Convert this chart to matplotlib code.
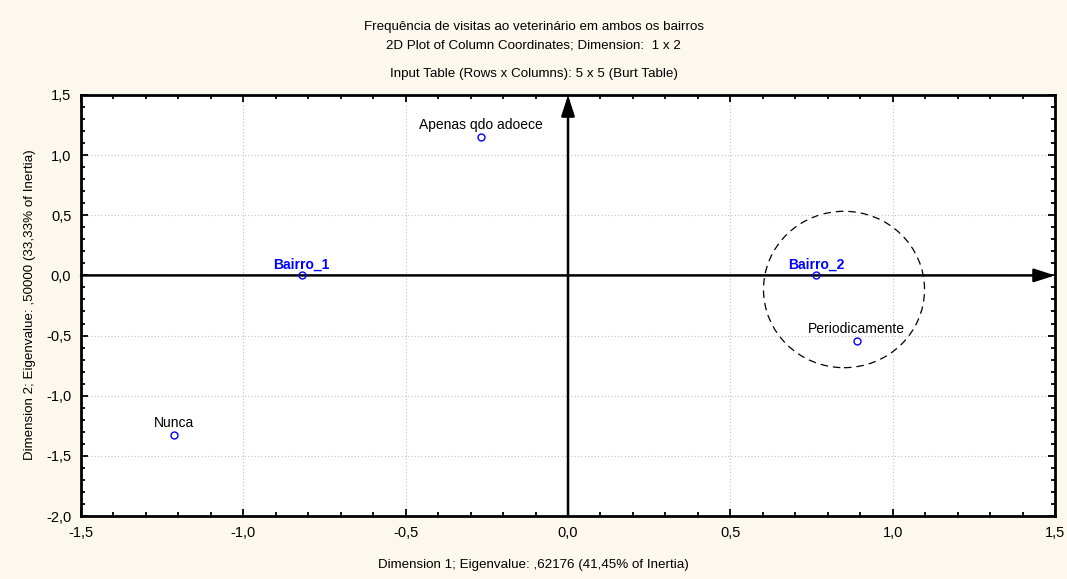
import numpy as np
import matplotlib
matplotlib.use("Agg")
import matplotlib.pyplot as plt
from matplotlib.patches import Ellipse
from matplotlib.ticker import MultipleLocator, FuncFormatter

# coordenadas das colunas (Burt table)
labels = ["Bairro_1", "Bairro_2", "Apenas qdo adoece", "Periodicamente", "Nunca"]
dim1 = [-0.82, 0.764, -0.268, 0.889, -1.215]
dim2 = [0.0, 0.0, 1.15, -0.547, -1.328]
destaque = [True, True, False, False, False]

titulo = ["Frequência de visitas ao veterinário em ambos os bairros",
          "2D Plot of Column Coordinates; Dimension:  1 x 2",
          "Input Table (Rows x Columns): 5 x 5 (Burt Table)"]
xlabel = "Dimension 1; Eigenvalue: ,62176 (41,45% of Inertia)"
ylabel = "Dimension 2; Eigenvalue: ,50000 (33,33% of Inertia)"

plt.rcParams['font.family'] = ['Liberation Sans', 'DejaVu Sans']

fig = plt.figure(figsize=(10.67, 5.79), dpi=100, facecolor='#fdf8ee')
ax = fig.add_axes([0.0759, 0.1088, 0.9129, 0.7272])
ax.set_facecolor('white')

ax.set_xlim(-1.5, 1.5)
ax.set_ylim(-2.0, 1.5)
ax.xaxis.set_major_locator(MultipleLocator(0.5))
ax.xaxis.set_minor_locator(MultipleLocator(0.1))
ax.yaxis.set_major_locator(MultipleLocator(0.5))
ax.yaxis.set_minor_locator(MultipleLocator(0.1))
fmt = FuncFormatter(lambda v, p: "{:.1f}".format(v).replace(".", ","))
ax.xaxis.set_major_formatter(fmt)
ax.yaxis.set_major_formatter(fmt)
ax.tick_params(which='both', direction='in', top=True, right=True,
               labelsize=10.5, width=1.3, colors='black')
ax.tick_params(which='major', length=5, pad=7)
ax.tick_params(which='minor', length=3)
for s in ax.spines.values():
    s.set_linewidth(2)
ax.grid(True, which='major', linestyle=(0, (1, 2)), color='#c4c4c4', linewidth=0.8)

# eixos com setas
seta = dict(arrowstyle='-|>,head_length=1.4,head_width=0.45', color='black',
            lw=1.8, mutation_scale=9, shrinkA=0, shrinkB=0)
ax.annotate("", xy=(1.5, 0), xytext=(-1.5, 0), arrowprops=seta)
ax.annotate("", xy=(0, 1.5), xytext=(0, -2.0), arrowprops=seta)

ax.plot(dim1, dim2, 'o', markersize=5, markerfacecolor='none',
        markeredgecolor='blue', markeredgewidth=1, zorder=5)

for lab, x, y, d in zip(labels, dim1, dim2, destaque):
    if d:
        ax.annotate(lab, (x, y), xytext=(0, 3), textcoords='offset points',
                    ha='center', va='bottom', fontsize=10, color='blue',
                    fontweight='bold')
    else:
        ax.annotate(lab, (x, y), xytext=(0, 4), textcoords='offset points',
                    ha='center', va='bottom', fontsize=10, color='black')

# circulo destacando Bairro_2 / Periodicamente
ax.add_patch(Ellipse((0.85, -0.117), 0.496, 1.30, fill=False,
                     linestyle=(0, (6, 4)), edgecolor='black', linewidth=0.9))

fig.text(0.5, 1 - 27 / 579, titulo[0], ha='center', va='center', fontsize=9.6)
fig.text(0.5, 1 - 46 / 579, titulo[1], ha='center', va='center', fontsize=9.6)
fig.text(0.5, 1 - 74 / 579, titulo[2], ha='center', va='center', fontsize=9.6)
fig.text(0.5, 1 - 565 / 579, xlabel, ha='center', va='center', fontsize=9.6)
fig.text(30 / 1067, 1 - 305 / 579, ylabel, ha='center', va='center', fontsize=9.6,
         rotation=90)

fig.savefig("out.png", dpi=100, facecolor=fig.get_facecolor())
